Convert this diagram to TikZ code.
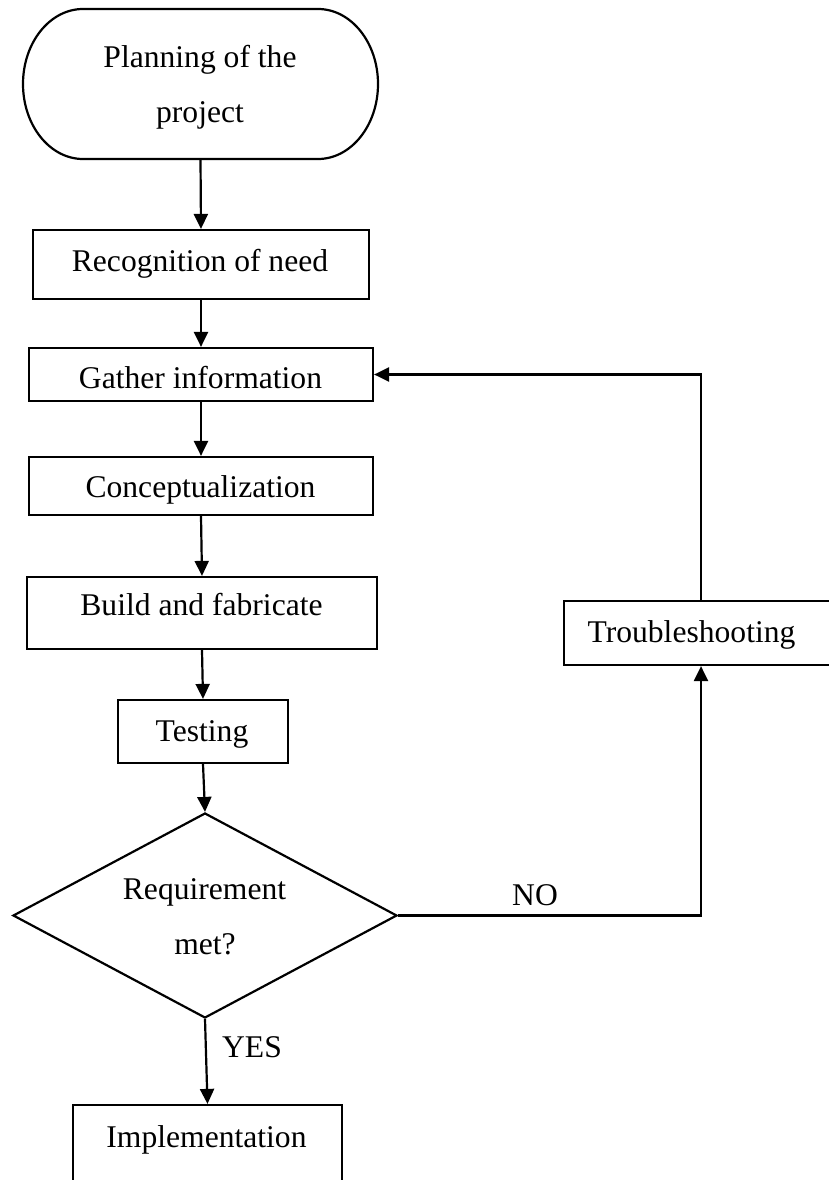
\documentclass[tikz,border=0pt]{standalone}
\usepackage{fontspec}
\setmainfont{Liberation Serif}
\usetikzlibrary{shapes.geometric,arrows.meta}
\begin{document}
\begin{tikzpicture}[x=1pt,y=-1pt,
  line width=2.2pt,
  box/.style={draw,rectangle,inner sep=0pt,line width=2.2pt},
  choice/.style={draw,diamond,inner sep=0pt,line width=2.2pt},
  lbl/.style={anchor=base,inner sep=0pt,font=\fontsize{31.6}{38}\selectfont},
  flow/.style={draw,line width=2.2pt,-{Triangle[length=15pt,width=14pt]}}]
\useasboundingbox (0,0) rectangle (829,1180);
\clip (0,0) rectangle (829,1180);

% shapes
\node[box,draw=none,outer sep=0pt,minimum width=355pt,minimum height=150pt] (term) at (200.5,84) {};
\draw[line width=2.2pt] ([xshift=60pt]term.north west) -- ([xshift=-60pt]term.north east)
  arc[start angle=90,end angle=-90,x radius=60pt,y radius=75pt]
  -- ([xshift=60pt]term.south west)
  arc[start angle=270,end angle=90,x radius=60pt,y radius=75pt] -- cycle;
\node[box,minimum width=336pt,minimum height=69pt] (rec) at (201,264.5) {};
\node[box,minimum width=344pt,minimum height=53pt] (gat) at (201,374.5) {};
\node[box,minimum width=344pt,minimum height=58pt] (con) at (201,486) {};
\node[box,minimum width=350pt,minimum height=72pt] (bui) at (202,613) {};
\node[box,minimum width=170pt,minimum height=63pt] (tes) at (203,731.5) {};
\node[choice,minimum width=384pt,minimum height=205pt] (dec) at (205,915.5) {};
\node[box,minimum width=269pt,minimum height=95pt] (imp) at (207.5,1152.5) {};
\node[box,minimum width=286pt,minimum height=64pt] (trb) at (707,633) {};

% texts
\node[lbl] (t1a) at (200,68) {Planning of the};
\node[lbl] (t1b) at (200,123) {project};
\node[lbl] (t2) at (200,271) {Recognition of need};
\node[lbl] (t3) at (200.5,388) {Gather information};
\node[lbl] (t4) at (200.5,497) {Conceptualization};
\node[lbl] (t5) at (201.5,615) {Build and fabricate};
\node[lbl] (t6) at (202,741) {Testing};
\node[lbl] (t7a) at (204.5,899) {Requirement};
\node[lbl] (t7b) at (205,954) {met?};
\node[lbl] (t8) at (206.5,1147) {Implementation};
\node[lbl] (t9) at (691.5,642) {Troubleshooting};
\node[lbl] (yes) at (252,1057) {YES};
\node[lbl] (no) at (535,905) {NO};

% connectors
\draw[flow] (term.south) -- (rec.north);
\draw[flow] (rec.south) -- (gat.north);
\draw[flow] (gat.south) -- (con.north);
\draw[flow] (con.south) -- (bui.north);
\draw[flow] (bui.south) -- (tes.north);
\draw[flow] (tes.south) -- (dec.north);
\draw[flow] (dec.south) -- (imp.north);
\coordinate (loop) at (701,600);
\draw[flow] (dec.east) -- (dec.east -| loop) -- (loop |- trb.south);
\draw[flow] (loop |- trb.north) -- (loop |- gat.east) -- (gat.east);
\end{tikzpicture}
\end{document}
